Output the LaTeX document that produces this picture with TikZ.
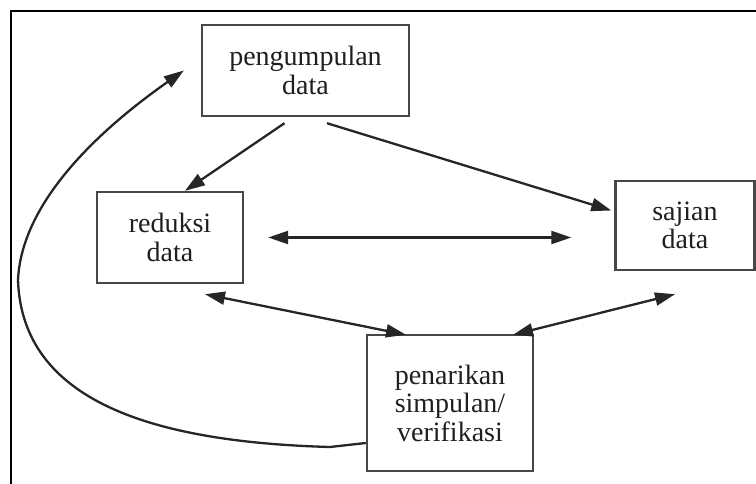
\documentclass[tikz,border=0pt]{standalone}
\usepackage{fontspec}
\setmainfont{Liberation Serif}
\usetikzlibrary{arrows.meta}
\begin{document}
\begin{tikzpicture}[x=1pt,y=-1pt,
  box/.style={draw=black!72, line width=2.4pt, inner sep=0pt, align=center,
    text=black!88, font=\fontsize{28}{28.5}\selectfont},
  conn/.style={draw=black!85, line width=2.3pt},
  tip/.style={-{Triangle[length=20pt,width=13pt]}},
  tips/.style={{Triangle[length=20pt,width=13pt]}-{Triangle[length=20pt,width=13pt]}}]
\useasboundingbox (0,0) rectangle (756,484);
\fill[white] (0,0) rectangle (756,484);
\draw[line width=2pt] (11,484) -- (11,11) -- (756,11);

\node[box, minimum width=207pt, minimum height=91pt] (pg) at (305.5,70.5) {pengumpulan\\data};
\node[box, minimum width=146pt, minimum height=91pt] (rd) at (170,237.5) {reduksi\\data};
\node[box, minimum width=139pt, minimum height=89pt] (sj) at (685,225.5) {sajian\\data};
\node[box, minimum width=166pt, minimum height=136pt] (pn) at (450,403) {penarikan\\simpulan/\\verifikasi};

\draw[conn,tip] ([shift={(-21,6)}]pg.south) -- ([shift={(15,0)}]rd.north);
\draw[conn,tip] ([shift={(21.5,6)}]pg.south) -- ([shift={(-3,-15)}]sj.west);
\draw[conn,tips] ([shift={(24,0)}]rd.east) -- ([shift={(-43,12)}]sj.west);
\draw[conn,tips] ([shift={(35,10)}]rd.south) -- ([shift={(-44,1)}]pn.north);
\draw[conn,tips] ([shift={(-10,23)}]sj.south) -- ([shift={(63,1)}]pn.north);
\draw[conn,tip] ([shift={(0,40)}]pn.west) -- (330,447)
  .. controls (150,442) and (22,400) .. (18,280)
  .. controls (22,190) and (125,112) .. ([shift={(-17,0)}]pg.west);
\end{tikzpicture}
\end{document}
